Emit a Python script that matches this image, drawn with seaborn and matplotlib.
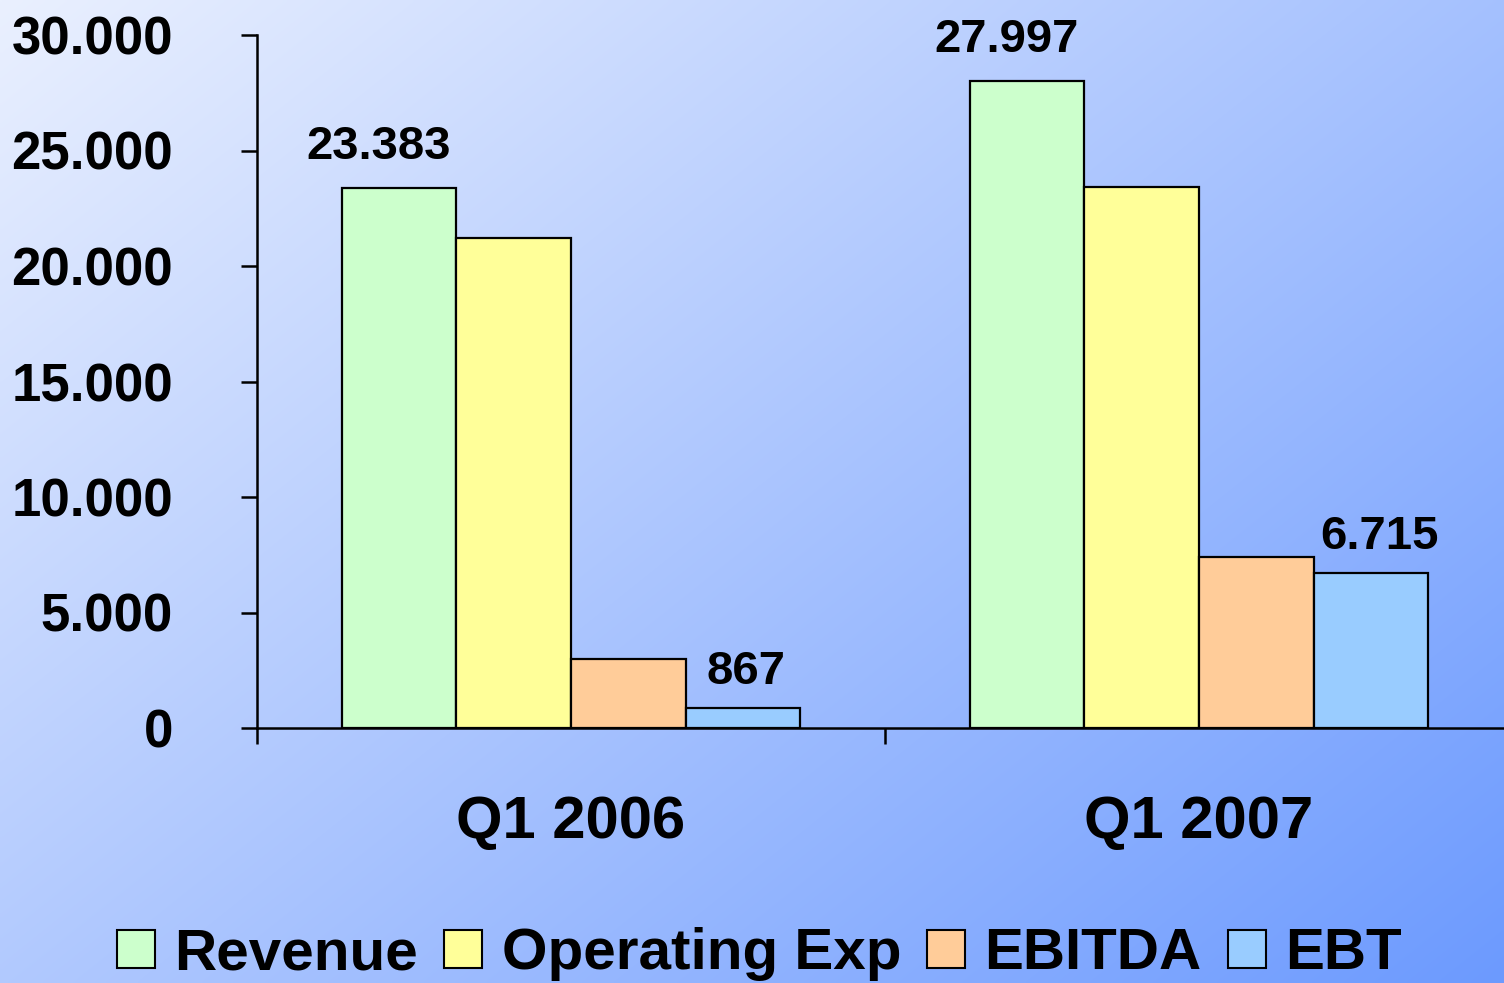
import numpy as np
import pandas as pd
import matplotlib
matplotlib.use('Agg')
import matplotlib.pyplot as plt
import seaborn as sns
from matplotlib.ticker import FuncFormatter

# ── données ──
periods = ['Q1 2006', 'Q1 2007']
metrics = ['Revenue', 'Operating Exp', 'EBITDA', 'EBT']
revenue = [23383, 27997]
operating_exp = [21200, 23400]
ebitda = [2990, 7400]
ebt = [867, 6715]
colors = ['#CCFFCC', '#FFFF99', '#FFCC99', '#99CCFF']

df = pd.DataFrame({
    'period': periods * 4,
    'metric': np.repeat(metrics, 2),
    'value': revenue + operating_exp + ebitda + ebt,
})


def fmt_thousands(v, pos=None):
    return f"{int(round(v)):,}".replace(',', '.')


sns.set_style('white')
plt.rcParams['font.family'] = ['Liberation Sans', 'DejaVu Sans']
plt.rcParams['font.weight'] = 'bold'
plt.rcParams['text.color'] = 'black'
plt.rcParams['xtick.color'] = 'black'
plt.rcParams['ytick.color'] = 'black'
plt.rcParams['xtick.labelcolor'] = 'black'
plt.rcParams['ytick.labelcolor'] = 'black'

fig = plt.figure(figsize=(15.04, 9.83), dpi=100)

# fond dégradé (haut gauche clair -> bas droite bleu)
bg = fig.add_axes([0, 0, 1, 1], zorder=0)
yy, xx = np.mgrid[0:1:300j, 0:1:460j]
t = xx * 0.55 + yy * 0.45
c0 = np.array([234, 240, 254]) / 255
c1 = np.array([108, 154, 255]) / 255
img = c0 + (c1 - c0) * t[..., None]
bg.imshow(img, aspect='auto', extent=[0, 1, 0, 1], origin='upper', interpolation='bilinear')
bg.axis('off')

ax = fig.add_axes([257 / 1504, 255 / 983, 1256 / 1504, 693 / 983], zorder=1)
ax.patch.set_alpha(0)

sns.barplot(data=df, x='period', y='value', hue='metric', hue_order=metrics,
            palette=colors, saturation=1, width=0.73, edgecolor='black',
            linewidth=1.6, ax=ax)

ax.set_xlim(-0.5, 1.5)
ax.set_ylim(0, 30000)
ax.set_yticks(range(0, 30001, 5000))
ax.yaxis.set_major_formatter(FuncFormatter(fmt_thousands))
ax.set_xlabel('')
ax.set_ylabel('')

for s in ['top', 'right']:
    ax.spines[s].set_visible(False)
for s in ['left', 'bottom']:
    ax.spines[s].set_color('black')
    ax.spines[s].set_linewidth(1.8)

ax.tick_params(axis='y', left=True, length=11.5, width=1.8, color='black',
               pad=49, labelsize=38, labelcolor='black')
ax.tick_params(axis='x', which='major', bottom=True, length=0, pad=48,
               labelsize=43, labelcolor='black')
ax.set_xticks([-0.5, 0.5, 1.5], minor=True)
ax.tick_params(axis='x', which='minor', bottom=True, length=11.5, width=1.8,
               color='black', direction='out')
for lbl in ax.get_xticklabels() + ax.get_yticklabels():
    lbl.set_fontweight('bold')

# étiquettes de valeurs (Revenue et EBT seulement)
label_style = {0: ([-15, -15], 21), 3: ([2, 6], 17)}
for idx, (dxs, gap) in label_style.items():
    for p, dx in zip(ax.containers[idx], dxs):
        ax.annotate(fmt_thousands(p.get_height()),
                    xy=(p.get_x() + p.get_width() / 2, p.get_height()),
                    xytext=(dx, gap), textcoords='offset points',
                    ha='center', va='baseline', fontsize=34,
                    fontweight='bold', color='black')

handles, labels = ax.get_legend_handles_labels()
if ax.get_legend() is not None:
    ax.get_legend().remove()
for hd in handles:
    hd.set_edgecolor('black')
    hd.set_linewidth(1.5)
leg = fig.legend(handles, labels, loc='center', bbox_to_anchor=(0.505, 0.029),
                 ncol=4, frameon=False, prop={'size': 42, 'weight': 'bold'},
                 handlelength=0.65, handleheight=0.65, handletextpad=0.33,
                 columnspacing=0.45, borderaxespad=0)
for txt in leg.get_texts():
    txt.set_color('black')

fig.savefig('out.png', dpi=100)
